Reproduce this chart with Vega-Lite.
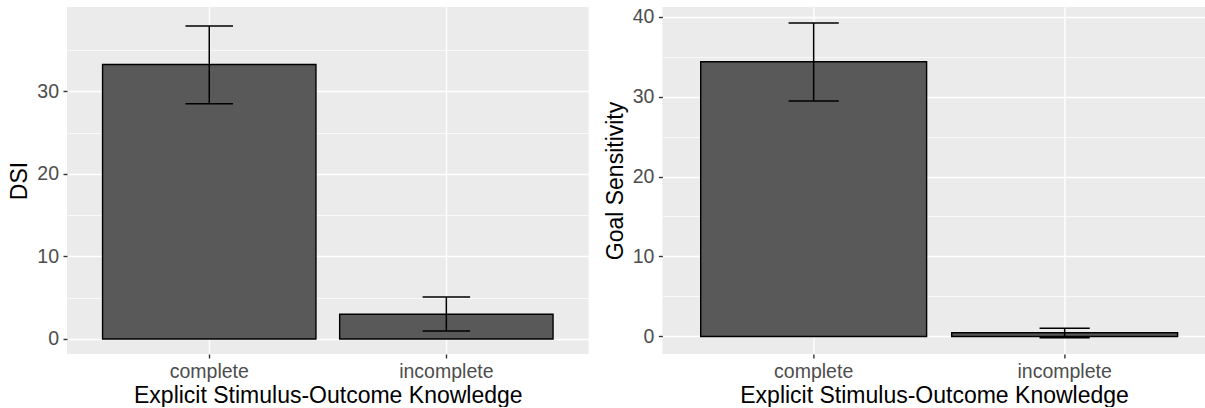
{
  "$schema": "https://vega.github.io/schema/vega-lite/v6.json",
  "background": "white",
  "padding": {"left": 8, "top": 6, "right": 0, "bottom": 0},
  "datasets": {
    "dsi": [
      {"knowledge": "complete", "mean": 33.25, "lo": 28.5, "hi": 37.9},
      {"knowledge": "incomplete", "mean": 3.0, "lo": 0.97, "hi": 5.08}
    ],
    "goal": [
      {"knowledge": "complete", "mean": 34.35, "lo": 29.45, "hi": 39.2},
      {"knowledge": "incomplete", "mean": 0.47, "lo": -0.17, "hi": 1.03}
    ]
  },
  "spacing": 73.4,
  "bounds": "flush",
  "hconcat": [
    {
      "width": 521.6,
      "height": 347,
      "data": {"name": "dsi"},
      "resolve": {"axis": {"y": "independent"}},
      "layer": [
        {
          "mark": {"type": "bar", "fill": "#595959", "stroke": "black", "strokeWidth": 1.4},
          "encoding": {
            "x": {"field": "knowledge", "type": "nominal", "sort": null,
                  "scale": {"type": "band", "paddingInner": 0.1, "paddingOuter": 0.15},
                  "axis": {"title": "Explicit Stimulus-Outcome Knowledge", "grid": true, "bandPosition": 0.5}},
            "y": {"field": "mean", "type": "quantitative",
                  "scale": {"domain": [-1.82, 40.21], "nice": false, "zero": false},
                  "axis": {"title": "DSI", "values": [0, 10, 20, 30], "grid": true}},
            "y2": {"datum": 0}
          }
        },
        {
          "mark": {"type": "rule", "color": "black", "strokeWidth": 1.5},
          "encoding": {
            "x": {"field": "knowledge", "type": "nominal", "sort": null,
                  "scale": {"type": "band", "paddingInner": 0.1, "paddingOuter": 0.15}},
            "y": {"field": "lo", "type": "quantitative",
                  "scale": {"domain": [-1.82, 40.21], "nice": false, "zero": false},
                  "axis": {"title": null, "orient": "right", "values": [5, 15, 25, 35], "grid": true, "gridWidth": 0.7, "labels": false, "ticks": false, "domain": false}},
            "y2": {"field": "hi"}
          }
        },
        {
          "mark": {"type": "tick", "color": "black", "thickness": 1.5, "size": 47.5, "opacity": 1},
          "encoding": {
            "x": {"field": "knowledge", "type": "nominal", "sort": null,
                  "scale": {"type": "band", "paddingInner": 0.1, "paddingOuter": 0.15}},
            "y": {"field": "hi", "type": "quantitative",
                  "scale": {"domain": [-1.82, 40.21], "nice": false, "zero": false}, "axis": null}
          }
        },
        {
          "mark": {"type": "tick", "color": "black", "thickness": 1.5, "size": 47.5, "opacity": 1},
          "encoding": {
            "x": {"field": "knowledge", "type": "nominal", "sort": null,
                  "scale": {"type": "band", "paddingInner": 0.1, "paddingOuter": 0.15}},
            "y": {"field": "lo", "type": "quantitative",
                  "scale": {"domain": [-1.82, 40.21], "nice": false, "zero": false}, "axis": null}
          }
        }
      ]
    },
    {
      "width": 543.3,
      "height": 347,
      "data": {"name": "goal"},
      "resolve": {"axis": {"y": "independent"}},
      "layer": [
        {
          "mark": {"type": "bar", "fill": "#595959", "stroke": "black", "strokeWidth": 1.4},
          "encoding": {
            "x": {"field": "knowledge", "type": "nominal", "sort": null,
                  "scale": {"type": "band", "paddingInner": 0.1, "paddingOuter": 0.1323, "align": 0.577},
                  "axis": {"title": "Explicit Stimulus-Outcome Knowledge", "grid": true, "bandPosition": 0.5}},
            "y": {"field": "mean", "type": "quantitative",
                  "scale": {"domain": [-2.19, 41.19], "nice": false, "zero": false},
                  "axis": {"title": "Goal Sensitivity", "values": [0, 10, 20, 30, 40], "grid": true}},
            "y2": {"datum": 0}
          }
        },
        {
          "mark": {"type": "rule", "color": "black", "strokeWidth": 1.5},
          "encoding": {
            "x": {"field": "knowledge", "type": "nominal", "sort": null,
                  "scale": {"type": "band", "paddingInner": 0.1, "paddingOuter": 0.1323, "align": 0.577}},
            "y": {"field": "lo", "type": "quantitative",
                  "scale": {"domain": [-2.19, 41.19], "nice": false, "zero": false},
                  "axis": {"title": null, "orient": "right", "values": [5, 15, 25, 35], "grid": true, "gridWidth": 0.7, "labels": false, "ticks": false, "domain": false}},
            "y2": {"field": "hi"}
          }
        },
        {
          "mark": {"type": "tick", "color": "black", "thickness": 1.5, "size": 50.2, "opacity": 1},
          "encoding": {
            "x": {"field": "knowledge", "type": "nominal", "sort": null,
                  "scale": {"type": "band", "paddingInner": 0.1, "paddingOuter": 0.1323, "align": 0.577}},
            "y": {"field": "hi", "type": "quantitative",
                  "scale": {"domain": [-2.19, 41.19], "nice": false, "zero": false}, "axis": null}
          }
        },
        {
          "mark": {"type": "tick", "color": "black", "thickness": 1.5, "size": 50.2, "opacity": 1},
          "encoding": {
            "x": {"field": "knowledge", "type": "nominal", "sort": null,
                  "scale": {"type": "band", "paddingInner": 0.1, "paddingOuter": 0.1323, "align": 0.577}},
            "y": {"field": "lo", "type": "quantitative",
                  "scale": {"domain": [-2.19, 41.19], "nice": false, "zero": false}, "axis": null}
          }
        }
      ]
    }
  ],
  "config": {
    "font": "Liberation Sans",
    "view": {"fill": "#EBEBEB", "stroke": null},
    "axis": {
      "labelFont": "Liberation Sans",
      "labelFontSize": 19.5,
      "labelColor": "#4D4D4D",
      "titleFont": "Liberation Sans",
      "titleFontSize": 23,
      "titleColor": "black",
      "titleFontWeight": "normal",
      "tickColor": "#333333",
      "tickSize": 4,
      "tickWidth": 1.4,
      "domain": false,
      "gridColor": "white",
      "gridWidth": 1.4,
      "gridOpacity": 1,
      "labelPadding": 4.5
    },
    "axisX": {"labelAngle": 0, "titlePadding": 3},
    "axisY": {"titlePadding": 5}
  }
}
